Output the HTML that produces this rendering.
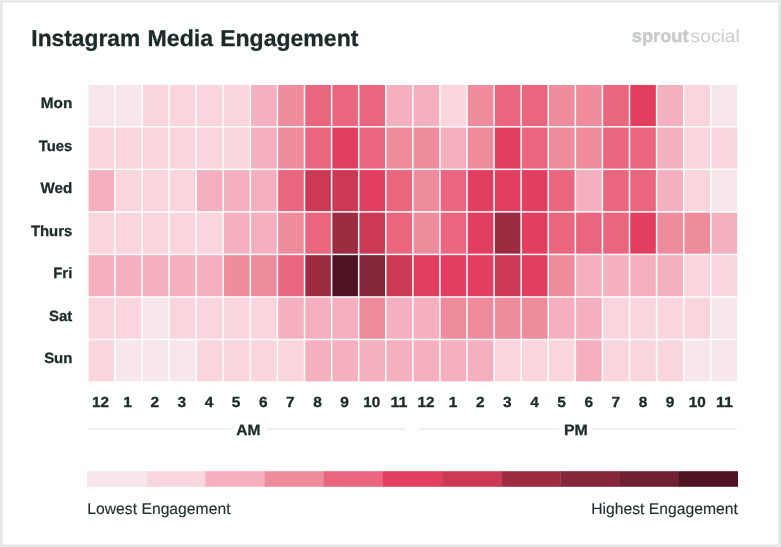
<!DOCTYPE html>
<html lang="en"><head><meta charset="utf-8"><title>Instagram Media Engagement</title>
<style>html,body{margin:0;padding:0;background:#fff}body{width:781px;height:547px;overflow:hidden}svg{display:block}text{font-family:"Liberation Sans",Arial,sans-serif;fill:#1c2b2a;text-rendering:geometricPrecision}.b{font-weight:700;stroke:#1c2b2a;stroke-width:.3px}.day{font-size:14.9px;font-weight:700;text-anchor:end;stroke:#1c2b2a;stroke-width:.3px}.hr{font-size:14.6px;font-weight:700;text-anchor:middle;stroke:#1c2b2a;stroke-width:.3px}.ap{font-size:15px;font-weight:700;text-anchor:middle;stroke:#1c2b2a;stroke-width:.3px}.lg{font-size:15.7px;fill:#1f2e2e;stroke:#1f2e2e;stroke-width:.15px}</style></head><body>
<svg width="781" height="547" viewBox="0 0 781 547">
<rect x="0" y="0" width="781" height="547" fill="#eceeee"/>
<rect x="1" y="1" width="779" height="545" fill="#e2e4e4"/>
<rect x="2" y="2" width="777" height="543" fill="#f0f1f1"/>
<rect x="3" y="3" width="775" height="541" fill="#ffffff"/>
<text class="b" y="45.9" font-size="23px"><tspan x="31.3" textLength="108.9" lengthAdjust="spacingAndGlyphs">Instagram</tspan> <tspan x="147.6" textLength="65.4" lengthAdjust="spacingAndGlyphs">Media</tspan> <tspan x="220.2" textLength="138.2" lengthAdjust="spacingAndGlyphs">Engagement</tspan></text>
<text x="631.8" y="41.6" font-size="17.9px" font-weight="700" textLength="56.8" lengthAdjust="spacingAndGlyphs" style="fill:#c7cbcc;stroke:#c7cbcc;stroke-width:.5px">sprout</text>
<text x="690.6" y="41.6" font-size="17.9px" textLength="49.2" lengthAdjust="spacingAndGlyphs" style="fill:#c9cdce">social</text>
<g shape-rendering="auto">
<rect x="88.60" y="85.00" width="25.58" height="41.04" fill="#f7e7ec"/>
<rect x="115.68" y="85.00" width="25.58" height="41.04" fill="#f7e7ec"/>
<rect x="142.77" y="85.00" width="25.58" height="41.04" fill="#f9d6dd"/>
<rect x="169.85" y="85.00" width="25.58" height="41.04" fill="#f9d6dd"/>
<rect x="196.93" y="85.00" width="25.58" height="41.04" fill="#f9d6dd"/>
<rect x="224.02" y="85.00" width="25.58" height="41.04" fill="#f9d6dd"/>
<rect x="251.10" y="85.00" width="25.58" height="41.04" fill="#f4b0be"/>
<rect x="278.18" y="85.00" width="25.58" height="41.04" fill="#ee8c9e"/>
<rect x="305.27" y="85.00" width="25.58" height="41.04" fill="#e9667e"/>
<rect x="332.35" y="85.00" width="25.58" height="41.04" fill="#e9667e"/>
<rect x="359.43" y="85.00" width="25.58" height="41.04" fill="#e9667e"/>
<rect x="386.52" y="85.00" width="25.58" height="41.04" fill="#f4b0be"/>
<rect x="413.60" y="85.00" width="25.58" height="41.04" fill="#f4b0be"/>
<rect x="440.68" y="85.00" width="25.58" height="41.04" fill="#f9d6dd"/>
<rect x="467.77" y="85.00" width="25.58" height="41.04" fill="#ee8c9e"/>
<rect x="494.85" y="85.00" width="25.58" height="41.04" fill="#e9667e"/>
<rect x="521.93" y="85.00" width="25.58" height="41.04" fill="#e9667e"/>
<rect x="549.02" y="85.00" width="25.58" height="41.04" fill="#ee8c9e"/>
<rect x="576.10" y="85.00" width="25.58" height="41.04" fill="#ee8c9e"/>
<rect x="603.18" y="85.00" width="25.58" height="41.04" fill="#e9667e"/>
<rect x="630.27" y="85.00" width="25.58" height="41.04" fill="#e23e5f"/>
<rect x="657.35" y="85.00" width="25.58" height="41.04" fill="#f4b0be"/>
<rect x="684.43" y="85.00" width="25.58" height="41.04" fill="#f9d6dd"/>
<rect x="711.52" y="85.00" width="25.58" height="41.04" fill="#f7e7ec"/>
<rect x="88.60" y="127.54" width="25.58" height="41.04" fill="#f9d6dd"/>
<rect x="115.68" y="127.54" width="25.58" height="41.04" fill="#f9d6dd"/>
<rect x="142.77" y="127.54" width="25.58" height="41.04" fill="#f9d6dd"/>
<rect x="169.85" y="127.54" width="25.58" height="41.04" fill="#f9d6dd"/>
<rect x="196.93" y="127.54" width="25.58" height="41.04" fill="#f9d6dd"/>
<rect x="224.02" y="127.54" width="25.58" height="41.04" fill="#f9d6dd"/>
<rect x="251.10" y="127.54" width="25.58" height="41.04" fill="#f4b0be"/>
<rect x="278.18" y="127.54" width="25.58" height="41.04" fill="#ee8c9e"/>
<rect x="305.27" y="127.54" width="25.58" height="41.04" fill="#e9667e"/>
<rect x="332.35" y="127.54" width="25.58" height="41.04" fill="#e23e5f"/>
<rect x="359.43" y="127.54" width="25.58" height="41.04" fill="#e9667e"/>
<rect x="386.52" y="127.54" width="25.58" height="41.04" fill="#ee8c9e"/>
<rect x="413.60" y="127.54" width="25.58" height="41.04" fill="#ee8c9e"/>
<rect x="440.68" y="127.54" width="25.58" height="41.04" fill="#f4b0be"/>
<rect x="467.77" y="127.54" width="25.58" height="41.04" fill="#ee8c9e"/>
<rect x="494.85" y="127.54" width="25.58" height="41.04" fill="#e23e5f"/>
<rect x="521.93" y="127.54" width="25.58" height="41.04" fill="#e9667e"/>
<rect x="549.02" y="127.54" width="25.58" height="41.04" fill="#ee8c9e"/>
<rect x="576.10" y="127.54" width="25.58" height="41.04" fill="#ee8c9e"/>
<rect x="603.18" y="127.54" width="25.58" height="41.04" fill="#e9667e"/>
<rect x="630.27" y="127.54" width="25.58" height="41.04" fill="#e9667e"/>
<rect x="657.35" y="127.54" width="25.58" height="41.04" fill="#f4b0be"/>
<rect x="684.43" y="127.54" width="25.58" height="41.04" fill="#f9d6dd"/>
<rect x="711.52" y="127.54" width="25.58" height="41.04" fill="#f9d6dd"/>
<rect x="88.60" y="170.09" width="25.58" height="41.04" fill="#f4b0be"/>
<rect x="115.68" y="170.09" width="25.58" height="41.04" fill="#f9d6dd"/>
<rect x="142.77" y="170.09" width="25.58" height="41.04" fill="#f9d6dd"/>
<rect x="169.85" y="170.09" width="25.58" height="41.04" fill="#f9d6dd"/>
<rect x="196.93" y="170.09" width="25.58" height="41.04" fill="#f4b0be"/>
<rect x="224.02" y="170.09" width="25.58" height="41.04" fill="#f4b0be"/>
<rect x="251.10" y="170.09" width="25.58" height="41.04" fill="#f4b0be"/>
<rect x="278.18" y="170.09" width="25.58" height="41.04" fill="#e9667e"/>
<rect x="305.27" y="170.09" width="25.58" height="41.04" fill="#cb3955"/>
<rect x="332.35" y="170.09" width="25.58" height="41.04" fill="#cb3955"/>
<rect x="359.43" y="170.09" width="25.58" height="41.04" fill="#e23e5f"/>
<rect x="386.52" y="170.09" width="25.58" height="41.04" fill="#e9667e"/>
<rect x="413.60" y="170.09" width="25.58" height="41.04" fill="#ee8c9e"/>
<rect x="440.68" y="170.09" width="25.58" height="41.04" fill="#e9667e"/>
<rect x="467.77" y="170.09" width="25.58" height="41.04" fill="#e23e5f"/>
<rect x="494.85" y="170.09" width="25.58" height="41.04" fill="#e23e5f"/>
<rect x="521.93" y="170.09" width="25.58" height="41.04" fill="#e23e5f"/>
<rect x="549.02" y="170.09" width="25.58" height="41.04" fill="#e9667e"/>
<rect x="576.10" y="170.09" width="25.58" height="41.04" fill="#f4b0be"/>
<rect x="603.18" y="170.09" width="25.58" height="41.04" fill="#e9667e"/>
<rect x="630.27" y="170.09" width="25.58" height="41.04" fill="#e9667e"/>
<rect x="657.35" y="170.09" width="25.58" height="41.04" fill="#f4b0be"/>
<rect x="684.43" y="170.09" width="25.58" height="41.04" fill="#f9d6dd"/>
<rect x="711.52" y="170.09" width="25.58" height="41.04" fill="#f7e7ec"/>
<rect x="88.60" y="212.63" width="25.58" height="41.04" fill="#f9d6dd"/>
<rect x="115.68" y="212.63" width="25.58" height="41.04" fill="#f9d6dd"/>
<rect x="142.77" y="212.63" width="25.58" height="41.04" fill="#f9d6dd"/>
<rect x="169.85" y="212.63" width="25.58" height="41.04" fill="#f9d6dd"/>
<rect x="196.93" y="212.63" width="25.58" height="41.04" fill="#f9d6dd"/>
<rect x="224.02" y="212.63" width="25.58" height="41.04" fill="#f4b0be"/>
<rect x="251.10" y="212.63" width="25.58" height="41.04" fill="#f4b0be"/>
<rect x="278.18" y="212.63" width="25.58" height="41.04" fill="#ee8c9e"/>
<rect x="305.27" y="212.63" width="25.58" height="41.04" fill="#e9667e"/>
<rect x="332.35" y="212.63" width="25.58" height="41.04" fill="#9d2c43"/>
<rect x="359.43" y="212.63" width="25.58" height="41.04" fill="#cb3955"/>
<rect x="386.52" y="212.63" width="25.58" height="41.04" fill="#e9667e"/>
<rect x="413.60" y="212.63" width="25.58" height="41.04" fill="#ee8c9e"/>
<rect x="440.68" y="212.63" width="25.58" height="41.04" fill="#e9667e"/>
<rect x="467.77" y="212.63" width="25.58" height="41.04" fill="#e23e5f"/>
<rect x="494.85" y="212.63" width="25.58" height="41.04" fill="#9d2c43"/>
<rect x="521.93" y="212.63" width="25.58" height="41.04" fill="#e23e5f"/>
<rect x="549.02" y="212.63" width="25.58" height="41.04" fill="#e9667e"/>
<rect x="576.10" y="212.63" width="25.58" height="41.04" fill="#e9667e"/>
<rect x="603.18" y="212.63" width="25.58" height="41.04" fill="#e9667e"/>
<rect x="630.27" y="212.63" width="25.58" height="41.04" fill="#e23e5f"/>
<rect x="657.35" y="212.63" width="25.58" height="41.04" fill="#ee8c9e"/>
<rect x="684.43" y="212.63" width="25.58" height="41.04" fill="#ee8c9e"/>
<rect x="711.52" y="212.63" width="25.58" height="41.04" fill="#f4b0be"/>
<rect x="88.60" y="255.17" width="25.58" height="41.04" fill="#f4b0be"/>
<rect x="115.68" y="255.17" width="25.58" height="41.04" fill="#f4b0be"/>
<rect x="142.77" y="255.17" width="25.58" height="41.04" fill="#f4b0be"/>
<rect x="169.85" y="255.17" width="25.58" height="41.04" fill="#f4b0be"/>
<rect x="196.93" y="255.17" width="25.58" height="41.04" fill="#f4b0be"/>
<rect x="224.02" y="255.17" width="25.58" height="41.04" fill="#ee8c9e"/>
<rect x="251.10" y="255.17" width="25.58" height="41.04" fill="#ee8c9e"/>
<rect x="278.18" y="255.17" width="25.58" height="41.04" fill="#e9667e"/>
<rect x="305.27" y="255.17" width="25.58" height="41.04" fill="#9d2c43"/>
<rect x="332.35" y="255.17" width="25.58" height="41.04" fill="#4f1222"/>
<rect x="359.43" y="255.17" width="25.58" height="41.04" fill="#85263a"/>
<rect x="386.52" y="255.17" width="25.58" height="41.04" fill="#cb3955"/>
<rect x="413.60" y="255.17" width="25.58" height="41.04" fill="#e23e5f"/>
<rect x="440.68" y="255.17" width="25.58" height="41.04" fill="#e23e5f"/>
<rect x="467.77" y="255.17" width="25.58" height="41.04" fill="#e23e5f"/>
<rect x="494.85" y="255.17" width="25.58" height="41.04" fill="#cb3955"/>
<rect x="521.93" y="255.17" width="25.58" height="41.04" fill="#e23e5f"/>
<rect x="549.02" y="255.17" width="25.58" height="41.04" fill="#ee8c9e"/>
<rect x="576.10" y="255.17" width="25.58" height="41.04" fill="#f4b0be"/>
<rect x="603.18" y="255.17" width="25.58" height="41.04" fill="#f4b0be"/>
<rect x="630.27" y="255.17" width="25.58" height="41.04" fill="#f4b0be"/>
<rect x="657.35" y="255.17" width="25.58" height="41.04" fill="#f4b0be"/>
<rect x="684.43" y="255.17" width="25.58" height="41.04" fill="#f9d6dd"/>
<rect x="711.52" y="255.17" width="25.58" height="41.04" fill="#f9d6dd"/>
<rect x="88.60" y="297.71" width="25.58" height="41.04" fill="#f9d6dd"/>
<rect x="115.68" y="297.71" width="25.58" height="41.04" fill="#f9d6dd"/>
<rect x="142.77" y="297.71" width="25.58" height="41.04" fill="#f7e7ec"/>
<rect x="169.85" y="297.71" width="25.58" height="41.04" fill="#f9d6dd"/>
<rect x="196.93" y="297.71" width="25.58" height="41.04" fill="#f9d6dd"/>
<rect x="224.02" y="297.71" width="25.58" height="41.04" fill="#f9d6dd"/>
<rect x="251.10" y="297.71" width="25.58" height="41.04" fill="#f9d6dd"/>
<rect x="278.18" y="297.71" width="25.58" height="41.04" fill="#f4b0be"/>
<rect x="305.27" y="297.71" width="25.58" height="41.04" fill="#f4b0be"/>
<rect x="332.35" y="297.71" width="25.58" height="41.04" fill="#f4b0be"/>
<rect x="359.43" y="297.71" width="25.58" height="41.04" fill="#ee8c9e"/>
<rect x="386.52" y="297.71" width="25.58" height="41.04" fill="#f4b0be"/>
<rect x="413.60" y="297.71" width="25.58" height="41.04" fill="#f4b0be"/>
<rect x="440.68" y="297.71" width="25.58" height="41.04" fill="#ee8c9e"/>
<rect x="467.77" y="297.71" width="25.58" height="41.04" fill="#ee8c9e"/>
<rect x="494.85" y="297.71" width="25.58" height="41.04" fill="#ee8c9e"/>
<rect x="521.93" y="297.71" width="25.58" height="41.04" fill="#ee8c9e"/>
<rect x="549.02" y="297.71" width="25.58" height="41.04" fill="#f4b0be"/>
<rect x="576.10" y="297.71" width="25.58" height="41.04" fill="#f4b0be"/>
<rect x="603.18" y="297.71" width="25.58" height="41.04" fill="#f9d6dd"/>
<rect x="630.27" y="297.71" width="25.58" height="41.04" fill="#f9d6dd"/>
<rect x="657.35" y="297.71" width="25.58" height="41.04" fill="#f9d6dd"/>
<rect x="684.43" y="297.71" width="25.58" height="41.04" fill="#f9d6dd"/>
<rect x="711.52" y="297.71" width="25.58" height="41.04" fill="#f7e7ec"/>
<rect x="88.60" y="340.26" width="25.58" height="41.04" fill="#f9d6dd"/>
<rect x="115.68" y="340.26" width="25.58" height="41.04" fill="#f7e7ec"/>
<rect x="142.77" y="340.26" width="25.58" height="41.04" fill="#f7e7ec"/>
<rect x="169.85" y="340.26" width="25.58" height="41.04" fill="#f7e7ec"/>
<rect x="196.93" y="340.26" width="25.58" height="41.04" fill="#f9d6dd"/>
<rect x="224.02" y="340.26" width="25.58" height="41.04" fill="#f9d6dd"/>
<rect x="251.10" y="340.26" width="25.58" height="41.04" fill="#f9d6dd"/>
<rect x="278.18" y="340.26" width="25.58" height="41.04" fill="#f9d6dd"/>
<rect x="305.27" y="340.26" width="25.58" height="41.04" fill="#f4b0be"/>
<rect x="332.35" y="340.26" width="25.58" height="41.04" fill="#f4b0be"/>
<rect x="359.43" y="340.26" width="25.58" height="41.04" fill="#f4b0be"/>
<rect x="386.52" y="340.26" width="25.58" height="41.04" fill="#f4b0be"/>
<rect x="413.60" y="340.26" width="25.58" height="41.04" fill="#f4b0be"/>
<rect x="440.68" y="340.26" width="25.58" height="41.04" fill="#f4b0be"/>
<rect x="467.77" y="340.26" width="25.58" height="41.04" fill="#f4b0be"/>
<rect x="494.85" y="340.26" width="25.58" height="41.04" fill="#f9d6dd"/>
<rect x="521.93" y="340.26" width="25.58" height="41.04" fill="#f9d6dd"/>
<rect x="549.02" y="340.26" width="25.58" height="41.04" fill="#f9d6dd"/>
<rect x="576.10" y="340.26" width="25.58" height="41.04" fill="#f4b0be"/>
<rect x="603.18" y="340.26" width="25.58" height="41.04" fill="#f9d6dd"/>
<rect x="630.27" y="340.26" width="25.58" height="41.04" fill="#f9d6dd"/>
<rect x="657.35" y="340.26" width="25.58" height="41.04" fill="#f9d6dd"/>
<rect x="684.43" y="340.26" width="25.58" height="41.04" fill="#f7e7ec"/>
<rect x="711.52" y="340.26" width="25.58" height="41.04" fill="#f7e7ec"/>
</g>
<text class="day" x="72.3" y="108.00" textLength="31.5" lengthAdjust="spacingAndGlyphs">Mon</text>
<text class="day" x="72.3" y="150.54" textLength="33.6" lengthAdjust="spacingAndGlyphs">Tues</text>
<text class="day" x="72.3" y="193.09" textLength="31.7" lengthAdjust="spacingAndGlyphs">Wed</text>
<text class="day" x="72.3" y="235.63">Thurs</text>
<text class="day" x="72.3" y="278.17">Fri</text>
<text class="day" x="72.3" y="320.71">Sat</text>
<text class="day" x="72.3" y="363.26">Sun</text>
<text class="hr" x="100.49" y="406.8" textLength="17.0" lengthAdjust="spacingAndGlyphs">12</text>
<text class="hr" x="127.62" y="406.8" textLength="8.6" lengthAdjust="spacingAndGlyphs">1</text>
<text class="hr" x="154.75" y="406.8" textLength="8.6" lengthAdjust="spacingAndGlyphs">2</text>
<text class="hr" x="181.88" y="406.8" textLength="8.6" lengthAdjust="spacingAndGlyphs">3</text>
<text class="hr" x="209.00" y="406.8" textLength="8.6" lengthAdjust="spacingAndGlyphs">4</text>
<text class="hr" x="236.13" y="406.8" textLength="8.6" lengthAdjust="spacingAndGlyphs">5</text>
<text class="hr" x="263.26" y="406.8" textLength="8.6" lengthAdjust="spacingAndGlyphs">6</text>
<text class="hr" x="290.39" y="406.8" textLength="8.6" lengthAdjust="spacingAndGlyphs">7</text>
<text class="hr" x="317.52" y="406.8" textLength="8.6" lengthAdjust="spacingAndGlyphs">8</text>
<text class="hr" x="344.65" y="406.8" textLength="8.6" lengthAdjust="spacingAndGlyphs">9</text>
<text class="hr" x="371.77" y="406.8" textLength="17.0" lengthAdjust="spacingAndGlyphs">10</text>
<text class="hr" x="398.90" y="406.8" textLength="17.0" lengthAdjust="spacingAndGlyphs">11</text>
<text class="hr" x="426.03" y="406.8" textLength="17.0" lengthAdjust="spacingAndGlyphs">12</text>
<text class="hr" x="453.16" y="406.8" textLength="8.6" lengthAdjust="spacingAndGlyphs">1</text>
<text class="hr" x="480.29" y="406.8" textLength="8.6" lengthAdjust="spacingAndGlyphs">2</text>
<text class="hr" x="507.42" y="406.8" textLength="8.6" lengthAdjust="spacingAndGlyphs">3</text>
<text class="hr" x="534.54" y="406.8" textLength="8.6" lengthAdjust="spacingAndGlyphs">4</text>
<text class="hr" x="561.67" y="406.8" textLength="8.6" lengthAdjust="spacingAndGlyphs">5</text>
<text class="hr" x="588.80" y="406.8" textLength="8.6" lengthAdjust="spacingAndGlyphs">6</text>
<text class="hr" x="615.93" y="406.8" textLength="8.6" lengthAdjust="spacingAndGlyphs">7</text>
<text class="hr" x="643.06" y="406.8" textLength="8.6" lengthAdjust="spacingAndGlyphs">8</text>
<text class="hr" x="670.19" y="406.8" textLength="8.6" lengthAdjust="spacingAndGlyphs">9</text>
<text class="hr" x="697.31" y="406.8" textLength="17.0" lengthAdjust="spacingAndGlyphs">10</text>
<text class="hr" x="724.44" y="406.8" textLength="17.0" lengthAdjust="spacingAndGlyphs">11</text>
<rect x="88" y="428.6" width="144.6" height="1" fill="#e1e4e4"/><rect x="266" y="428.6" width="140" height="1" fill="#e1e4e4"/>
<rect x="418.4" y="428.6" width="141" height="1" fill="#e1e4e4"/><rect x="592.3" y="428.6" width="144.9" height="1" fill="#e1e4e4"/>
<text class="ap" x="248.3" y="434.7" textLength="24.2" lengthAdjust="spacingAndGlyphs">AM</text><text class="ap" x="575.9" y="434.7" textLength="23.8" lengthAdjust="spacingAndGlyphs">PM</text>
<rect x="87.00" y="471.2" width="60.30" height="15.6" fill="#f7e7ec"/>
<rect x="147.00" y="471.2" width="58.66" height="15.6" fill="#f9d6dd"/>
<rect x="205.36" y="471.2" width="59.48" height="15.6" fill="#f4b0be"/>
<rect x="264.55" y="471.2" width="59.48" height="15.6" fill="#ee8c9e"/>
<rect x="323.73" y="471.2" width="59.48" height="15.6" fill="#e9667e"/>
<rect x="382.91" y="471.2" width="59.48" height="15.6" fill="#e23e5f"/>
<rect x="442.09" y="471.2" width="59.48" height="15.6" fill="#cb3955"/>
<rect x="501.27" y="471.2" width="59.48" height="15.6" fill="#9d2c43"/>
<rect x="560.45" y="471.2" width="59.48" height="15.6" fill="#85263a"/>
<rect x="619.64" y="471.2" width="59.48" height="15.6" fill="#6f2031"/>
<rect x="678.82" y="471.2" width="59.18" height="15.6" fill="#4f1222"/>
<text class="lg" x="87.3" y="514" textLength="143.2" lengthAdjust="spacing">Lowest Engagement</text>
<text class="lg" x="737.8" y="514" text-anchor="end">Highest Engagement</text>
</svg></body></html>
